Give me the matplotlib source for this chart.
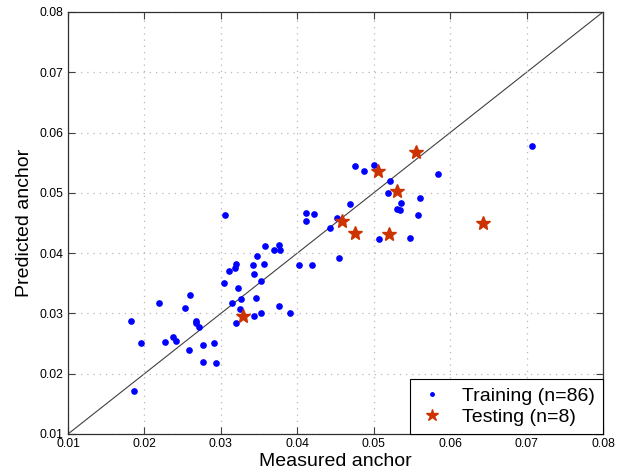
import matplotlib
matplotlib.use('Agg')
import matplotlib.pyplot as plt

plt.rcParams['font.family'] = ['Liberation Sans', 'DejaVu Sans']

# training set (measured, predicted)
train_x = [0.0305, 0.0411, 0.0411, 0.0422, 0.0452, 0.0443, 0.0358, 0.0376, 0.0369, 0.0377,
           0.0347, 0.0320, 0.0319, 0.0311, 0.0342, 0.0356, 0.0344, 0.0402, 0.0419, 0.0454,
           0.0304, 0.0323, 0.0353, 0.0260, 0.0326, 0.0346, 0.0219, 0.0253, 0.0315, 0.0325,
           0.0182, 0.0267, 0.0267, 0.0271, 0.0320, 0.0344, 0.0352, 0.0376, 0.0391, 0.0196,
           0.0227, 0.0237, 0.0241, 0.0291, 0.0277, 0.0258, 0.0276, 0.0293, 0.0187, 0.0707,
           0.0476, 0.0487, 0.0501, 0.0584, 0.0521, 0.0519, 0.0560, 0.0536, 0.0469, 0.0530,
           0.0534, 0.0558, 0.0507, 0.0547]
train_y = [0.0463, 0.0467, 0.0454, 0.0465, 0.0459, 0.0441, 0.0412, 0.0414, 0.0406, 0.0406,
           0.0396, 0.0382, 0.0376, 0.0370, 0.0380, 0.0382, 0.0366, 0.0380, 0.0380, 0.0392,
           0.0350, 0.0342, 0.0354, 0.0330, 0.0324, 0.0326, 0.0318, 0.0309, 0.0318, 0.0307,
           0.0287, 0.0287, 0.0284, 0.0277, 0.0284, 0.0296, 0.0300, 0.0312, 0.0300, 0.0251,
           0.0253, 0.0261, 0.0255, 0.0251, 0.0247, 0.0239, 0.0219, 0.0217, 0.0172, 0.0578,
           0.0544, 0.0536, 0.0546, 0.0531, 0.0520, 0.0499, 0.0491, 0.0483, 0.0481, 0.0473,
           0.0471, 0.0463, 0.0423, 0.0425]

# testing set
test_x = [0.0329, 0.0555, 0.0506, 0.0531, 0.0459, 0.0475, 0.0520, 0.0643]
test_y = [0.0295, 0.0568, 0.0537, 0.0503, 0.0453, 0.0434, 0.0431, 0.0450]

ticks = [0.01, 0.02, 0.03, 0.04, 0.05, 0.06, 0.07, 0.08]

fig = plt.figure(figsize=(6.27, 4.74), dpi=100)
ax = fig.add_axes([68 / 627, 1 - 434 / 474, 535 / 627, 422 / 474])

ax.plot([0.01, 0.08], [0.01, 0.08], color='#404040', lw=0.8, zorder=1)
ax.plot(train_x, train_y, 'o', color='blue', ms=3.8, mec='blue', label='Training (n=86)', zorder=3)
ax.plot(test_x, test_y, '*', color='#cc3300', ms=10, mec='#cc3300', label='Testing (n=8)', zorder=4)

ax.set_xlim(0.01, 0.08)
ax.set_ylim(0.01, 0.08)
ax.set_xticks(ticks)
ax.set_yticks(ticks)
ax.set_xticklabels([f'{t:.2f}' for t in ticks])
ax.set_yticklabels([f'{t:.2f}' for t in ticks])
ax.grid(True, linestyle=(0, (1, 4)), color='#b8b8b8', lw=0.9)
ax.tick_params(direction='in', length=5, top=True, right=True, labelsize=8.8,
               color='#404040', pad=3)
for s in ax.spines.values():
    s.set_color('#303030')
    s.set_linewidth(0.9)

ax.set_xlabel('Measured anchor', fontsize=14, labelpad=2)
ax.set_ylabel('Predicted anchor', fontsize=14, labelpad=5)

leg = ax.legend(loc='lower right', fontsize=14, borderaxespad=0, fancybox=False,
                framealpha=1, edgecolor='black', handlelength=1.5, handletextpad=0.8,
                labelspacing=0.2, borderpad=0.4, markerscale=0.9)
leg.get_frame().set_linewidth(0.8)
leg.legend_handles[0].set_markersize(2.5)

fig.savefig('out.png', dpi=100)
